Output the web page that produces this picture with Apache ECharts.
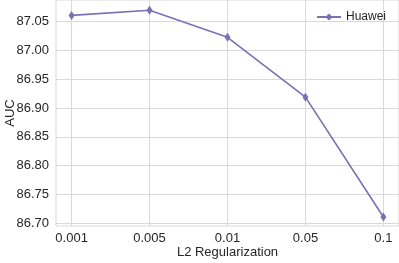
<!DOCTYPE html>
<html><head><meta charset="utf-8">
<script src="https://cdn.jsdelivr.net/npm/echarts@6/dist/echarts.min.js"></script>
<style>html,body{margin:0;padding:0;background:#fff}#c{width:399px;height:263px}</style>
</head><body><div id="c"></div>
<script>
const categories = ['0.001', '0.005', '0.01', '0.05', '0.1'];
const huawei = [87.061, 87.070, 87.023, 86.919, 86.711];
const yTicks = [86.70, 86.75, 86.80, 86.85, 86.90, 86.95, 87.00, 87.05];
const seriesName = 'Huawei';

const color = '#7b6fb6';
const txt = '#262626';
const gridC = '#d9d9d9';
const font = 'Liberation Sans, Arial, sans-serif';
const diamond = 'path://M0,-14 L10,0 L0,14 L-10,0 Z';

const chart = echarts.init(document.getElementById('c'), null, {renderer: 'canvas'});
chart.setOption({
  animation: false,
  backgroundColor: '#fff',
  grid: {left: 56, right: 0, top: 0, bottom: 37, show: true, borderColor: gridC, borderWidth: 1,
         containLabel: false, outerBoundsMode: 'none'},
  legend: {
    right: 8, top: 6, itemWidth: 24, itemHeight: 9, itemGap: 5,
    textStyle: {fontFamily: font, fontSize: 12, color: txt},
    data: [seriesName]
  },
  xAxis: {
    type: 'value', min: -0.2, max: 4.2,
    name: 'L2 Regularization', nameLocation: 'middle', nameGap: 20, nameMoveOverlap: false,
    nameTextStyle: {fontFamily: font, fontSize: 13, color: txt},
    axisLine: {show: false},
    axisTick: {show: false, customValues: [0, 1, 2, 3, 4]},
    axisLabel: {customValues: [0, 1, 2, 3, 4], formatter: v => categories[Math.round(v)], fontFamily: font, fontSize: 13, color: txt, margin: 6},
    splitLine: {show: true, lineStyle: {color: gridC, width: 1}}
  },
  yAxis: {
    type: 'value', min: 86.6953, max: 87.0877,
    name: 'AUC', nameLocation: 'middle', nameGap: 39, nameRotate: 90, nameMoveOverlap: false,
    nameTextStyle: {fontFamily: font, fontSize: 13, color: txt},
    axisLine: {show: false},
    axisTick: {show: false, customValues: yTicks},
    axisLabel: {customValues: yTicks, formatter: v => v.toFixed(2), fontFamily: font, fontSize: 13, color: txt, margin: 7},
    splitLine: {show: true, lineStyle: {color: gridC, width: 1}}
  },
  series: [{
    name: seriesName, type: 'line',
    data: huawei.map((v, i) => [i, v]),
    symbol: diamond, symbolSize: [6, 9],
    lineStyle: {color: color, width: 1.6},
    itemStyle: {color: color}
  }]
});
</script></body></html>
